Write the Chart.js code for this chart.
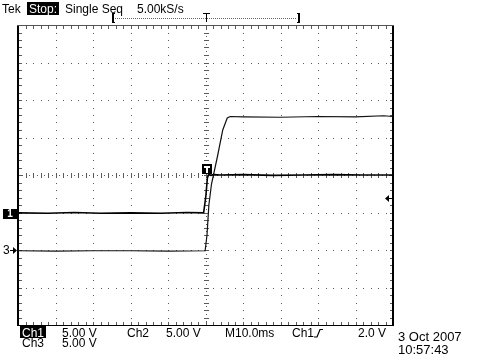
<!DOCTYPE html>
<html><head><meta charset="utf-8">
<script src="https://cdn.jsdelivr.net/npm/chart.js@4/dist/chart.umd.min.js"></script>
<style>
html,body{margin:0;padding:0;background:#fff;}
#wrap{position:relative;width:480px;height:360px;overflow:hidden;background:#fff;}
canvas{position:absolute;left:0;top:0;}
.t{position:absolute;font-family:"Liberation Sans",Arial,sans-serif;font-size:12px;line-height:12px;color:#000;white-space:pre;}
.inv{background:#000;color:#fff;}
</style></head><body>
<div id="wrap">
<canvas id="c" width="480" height="360"></canvas>
<div class="t" style="left:2px;top:3px;">Tek</div>
<div class="t inv" style="left:27px;top:2px;height:12px;padding:1px 2px 0 2px;">Stop:</div>
<div class="t" style="left:65px;top:3px;">Single Seq</div>
<div class="t" style="left:137px;top:3px;">5.00kS/s</div>

<div class="t inv" style="left:20px;top:326px;height:11px;padding-top:1px;width:26px;text-align:center;">Ch1</div>
<div class="t" style="left:62px;top:327px;">5.00 V</div>
<div class="t" style="left:127px;top:327px;">Ch2</div>
<div class="t" style="left:166px;top:327px;">5.00 V</div>
<div class="t" style="left:225px;top:327px;">M10.0ms</div>
<div class="t" style="left:292px;top:327px;">Ch1</div>
<div class="t" style="left:358px;top:327px;">2.0 V</div>
<div class="t" style="left:22px;top:337px;">Ch3</div>
<div class="t" style="left:62px;top:337px;">5.00 V</div>
<div class="t" style="left:398px;top:330px;font-size:13px;line-height:13px;">3 Oct 2007</div>
<div class="t" style="left:398px;top:343px;font-size:13px;line-height:13px;">10:57:43</div>
</div>
<script>
// ---- Data ----
const ch1Time  = [-50, -42, -35, -28, -20, -12, -5, -0.5, 0.1, 0.5, 0.9, 1.4, 2.2, 4, 10, 18, 26, 34, 42, 50];
const ch1Volts = [-0.05, -0.1, 0, -0.1, -0.05, -0.1, 0, -0.05, 2.2, 4.6, 5.15, 4.95, 5.05, 5.0, 5.05, 4.95, 5.0, 5.05, 5.0, 5.0];
const ch3Time  = [-50, -40, -30, -20, -10, -0.1, 0.4, 0.9, 1.6, 3.2, 4.6, 5.8, 6.6, 10, 20, 30, 40, 47.5, 50];
const ch3Volts = [-0.1, -0.15, -0.1, -0.1, -0.15, -0.1, 2.0, 6.0, 8.8, 12.5, 16.0, 17.6, 17.8, 17.75, 17.7, 17.8, 17.75, 17.9, 17.8];

const voltsPerDiv = {ch1: 5.0, ch3: 5.0};
const positionDiv = {ch1: -1.0, ch3: -2.0};
const triggerLevelV = 2.0;
const timePerDivMs = 10;
const xDivs = [-5, -4, -3, -2, -1, 0, 1, 2, 3, 4, 5];
const yDivs = [-4, -3, -2, -1, 0, 1, 2, 3, 4];
const recordWindowMs = [-25, 25];

const toPts = (ts, vs, ch) => ts.map((t, i) => ({x: t, y: vs[i] / voltsPerDiv[ch] + positionDiv[ch]}));

const graticule = {
  id: 'graticule',
  beforeDatasetsDraw(chart) {
    const {ctx, chartArea: ca, scales: {x: xs, y: ys}} = chart;
    ctx.save();
    ctx.fillStyle = '#5a5a5a';
    const xMin = xDivs[0], xMax = xDivs[xDivs.length - 1];
    const yMin = yDivs[0], yMax = yDivs[yDivs.length - 1];
    const px = d => Math.round(xs.getPixelForValue(d * timePerDivMs));
    const py = d => Math.round(ys.getPixelForValue(d));
    // dotted division lines
    xDivs.forEach(d => {
      if (d === xMin || d === xMax || d === 0) return;
      for (let k = yMin * 5; k <= yMax * 5; k++) ctx.fillRect(px(d), py(k / 5), 1, 1);
    });
    yDivs.forEach(d => {
      if (d === yMin || d === yMax || d === 0) return;
      for (let k = xMin * 5; k <= xMax * 5; k++) ctx.fillRect(px(k / 5), py(d), 1, 1);
    });
    // centre lines with tick marks
    const cx = px(0), cy = py(0);
    for (let k = yMin * 10; k <= yMax * 10; k++) {
      const y = py(k / 10);
      ctx.fillRect(cx, y, 1, 1);
      if (k % 2 === 0) ctx.fillRect(cx - 2, y, 5, 1);
    }
    for (let k = xMin * 10; k <= xMax * 10; k++) {
      const x = px(k / 10);
      ctx.fillRect(x, cy, 1, 1);
      if (k % 2 === 0) ctx.fillRect(x, cy - 2, 1, 5);
    }
    // edge ticks
    for (let k = xMin * 5; k <= xMax * 5; k++) {
      const x = px(k / 5);
      ctx.fillRect(x, ca.top + 1, 1, 3);
      ctx.fillRect(x, ca.bottom - 3, 1, 3);
    }
    for (let k = yMin * 5; k <= yMax * 5; k++) {
      const y = py(k / 5);
      ctx.fillRect(ca.left + 1, y, 3, 1);
      ctx.fillRect(ca.right - 3, y, 3, 1);
    }
    // frame
    ctx.fillStyle = '#000';
    ctx.fillRect(ca.left - 1, ca.top, 2, ca.bottom - ca.top + 1);
    ctx.fillRect(ca.right - 1, ca.top, 2, ca.bottom - ca.top + 1);
    ctx.fillRect(ca.left - 1, ca.bottom, ca.right - ca.left + 2, 1);
    ctx.fillStyle = '#555';
    ctx.fillRect(ca.left - 1, ca.top, ca.right - ca.left + 2, 1);
    ctx.restore();
  },
  afterDatasetsDraw(chart) {
    const {ctx, chartArea: ca, scales: {x: xs, y: ys}} = chart;
    ctx.save();
    ctx.font = 'bold 10px "Liberation Sans", Arial, sans-serif';
    ctx.textBaseline = 'middle';
    // Ch1 ground marker
    const g1 = Math.round(ys.getPixelForValue(positionDiv.ch1));
    ctx.fillStyle = '#000';
    ctx.fillRect(3, g1 - 4, 14, 10);
    ctx.fillStyle = '#fff';
    ctx.textAlign = 'center';
    ctx.fillText('1', 10, g1 + 1.5);
    // Ch3 ground marker
    const g3 = Math.round(ys.getPixelForValue(positionDiv.ch3));
    ctx.fillStyle = '#000';
    ctx.font = '12px "Liberation Sans", Arial, sans-serif';
    ctx.textAlign = 'left';
    ctx.fillText('3', 3, g3 + 1);
    ctx.fillRect(10, g3, 6, 1);
    ctx.beginPath(); ctx.moveTo(17, g3 + 0.5); ctx.lineTo(13, g3 - 3); ctx.lineTo(13, g3 + 4); ctx.closePath(); ctx.fill();
    // trigger level arrow (right side)
    const tl = Math.round(ys.getPixelForValue(triggerLevelV / voltsPerDiv.ch1 + positionDiv.ch1));
    ctx.fillRect(388, tl, 5, 1);
    ctx.beginPath(); ctx.moveTo(385, tl + 0.5); ctx.lineTo(389, tl - 3); ctx.lineTo(389, tl + 4); ctx.closePath(); ctx.fill();
    // trigger position marker on trace
    const tx = Math.round(xs.getPixelForValue(0));
    const ty = Math.round(ys.getPixelForValue(0));
    ctx.fillRect(tx - 4, ty - 11, 10, 10);
    ctx.fillStyle = '#fff';
    ctx.fillRect(tx - 2, ty - 9, 6, 2);
    ctx.fillRect(tx, ty - 9, 2, 7);
    // record window indicator at top
    const rl = Math.round(xs.getPixelForValue(recordWindowMs[0]));
    const rr = Math.round(xs.getPixelForValue(recordWindowMs[1]));
    const ry = 18;
    ctx.fillStyle = '#666';
    for (let x = rl + 3; x < rr - 2; x += 2) ctx.fillRect(x, ry, 1, 1);
    ctx.fillStyle = '#000';
    ctx.fillRect(rl, ry - 5, 2, 10); ctx.fillRect(rl, ry - 5, 3, 1); ctx.fillRect(rl, ry + 4, 3, 1);
    ctx.fillRect(rr - 1, ry - 5, 2, 10); ctx.fillRect(rr - 2, ry - 5, 3, 1); ctx.fillRect(rr - 2, ry + 4, 3, 1);
    ctx.fillRect(tx - 3, ry - 5, 7, 1); ctx.fillRect(tx, ry - 5, 1, 9);
    // rising-edge symbol in footer
    ctx.strokeStyle = '#000'; ctx.lineWidth = 1.2;
    ctx.beginPath(); ctx.moveTo(314, 337); ctx.lineTo(317, 337); ctx.lineTo(320, 329.5); ctx.lineTo(323, 329.5); ctx.stroke();
    ctx.restore();
  }
};

new Chart(document.getElementById('c'), {
  type: 'line',
  data: {
    datasets: [
      {label: 'Ch1', data: toPts(ch1Time, ch1Volts, 'ch1'), borderColor: '#000', borderWidth: 1.6, pointRadius: 0, tension: 0, fill: false},
      {label: 'Ch3', data: toPts(ch3Time, ch3Volts, 'ch3'), borderColor: '#111', borderWidth: 1.2, pointRadius: 0, tension: 0, fill: false}
    ]
  },
  options: {
    responsive: false,
    animation: false,
    devicePixelRatio: 1,
    layout: {padding: {left: 18, top: 25, right: 87, bottom: 35}},
    scales: {
      x: {type: 'linear', display: false, min: xDivs[0] * timePerDivMs, max: xDivs[xDivs.length - 1] * timePerDivMs},
      y: {type: 'linear', display: false, min: yDivs[0], max: yDivs[yDivs.length - 1]}
    },
    plugins: {legend: {display: false}, tooltip: {enabled: false}, title: {display: false}}
  },
  plugins: [graticule]
});
</script>
</body></html>
